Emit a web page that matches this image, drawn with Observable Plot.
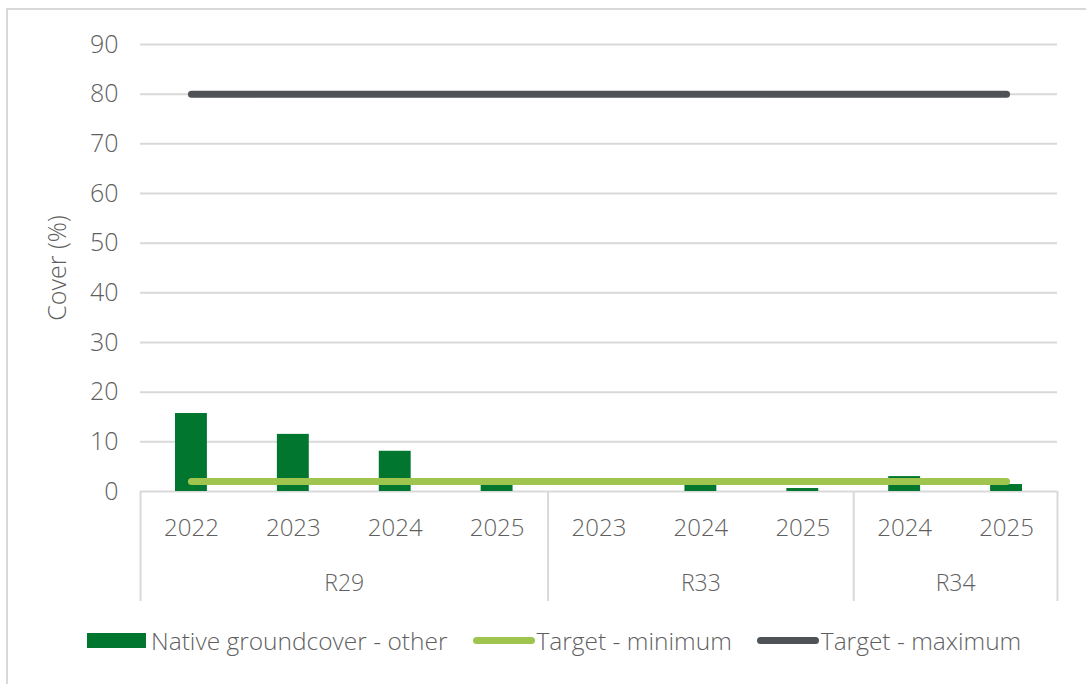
<!DOCTYPE html>
<html>
<head>
<meta charset="utf-8">
<script src="https://cdn.jsdelivr.net/npm/d3@7"></script>
<script src="https://cdn.jsdelivr.net/npm/@observablehq/plot@0.6"></script>
<style>
  html, body { margin: 0; padding: 0; background: #fff; overflow: hidden; }
  #wrap { position: relative; width: 1086px; height: 684px; font-family: "Open Sans", sans-serif; color: #5f5f5f; }
  #frame { position: absolute; left: 6px; top: 8px; width: 1100px; height: 700px; border: 2px solid #d9d9d9; box-sizing: border-box; }
  #chart { position: absolute; left: 0; top: 0; }
  #legend { position: absolute; left: 87px; top: 624px; display: flex; align-items: center; font-size: 24.5px; font-weight: 300; white-space: nowrap; }
  .item { display: flex; align-items: center; margin-right: 25px; }
  .sw { display: inline-block; margin-right: 5px; }
</style>
</head>
<body>
<div id="wrap"><div id="frame"></div><div id="chart"></div><div id="legend"></div></div>
<script>
// ---- data ----
const sites = ["R29", "R29", "R29", "R29", "R33", "R33", "R33", "R34", "R34"];
const years = ["2022", "2023", "2024", "2025", "2023", "2024", "2025", "2024", "2025"];
const groundcover = [15.7, 11.5, 8.1, 1.8, 0, 1.5, 0.6, 3.0, 1.4];
const targetMin = [2, 2, 2, 2, 2, 2, 2, 2, 2];
const targetMax = [80, 80, 80, 80, 80, 80, 80, 80, 80];
const seriesNames = ["Native groundcover - other", "Target - minimum", "Target - maximum"];
const seriesColors = ["#00762f", "#9fc54f", "#4f5256"];
const yTicks = [0, 10, 20, 30, 40, 50, 60, 70, 80, 90];

const rows = years.map((y, i) => ({i, site: sites[i], year: y, gc: groundcover[i], tmin: targetMin[i], tmax: targetMax[i]}));

// groups derived from sites
const groups = [];
sites.forEach((s, i) => {
  const g = groups[groups.length - 1];
  if (g && g.name === s) g.end = i; else groups.push({name: s, start: i, end: i});
});
const bounds = [groups[0].start - 0.5, ...groups.map(g => g.end + 0.5)];

const txt = "#5f5f5f";
const plot = Plot.plot({
  width: 1086,
  height: 684,
  marginLeft: 140,
  marginRight: 29,
  marginTop: 44,
  marginBottom: 193,
  style: {fontFamily: "Open Sans, sans-serif", fontWeight: 300, color: txt, background: "transparent", overflow: "visible"},
  x: {type: "linear", domain: [-0.5, sites.length - 0.5]},
  y: {domain: [0, 90]},
  marks: [
    Plot.gridY(yTicks, {stroke: "#d9d9d9", strokeOpacity: 1, strokeWidth: 2}),
    Plot.axisY(yTicks, {tickSize: 0, tickPadding: 22, fontSize: 25, label: "Cover (%)", labelAnchor: "center", labelArrow: "none", labelOffset: 92, fill: txt}),
    Plot.axisX(rows.map(d => d.i), {tickSize: 0, tickPadding: 27, fontSize: 24, tickFormat: i => years[i], label: null, fill: txt}),
    Plot.text(groups, {x: g => (g.start + g.end) / 2, text: "name", frameAnchor: "bottom", dy: 99, fontSize: 23, fill: txt}),
    Plot.ruleX(bounds, {x: d => d, y1: 0, y2: 0, insetBottom: -110, stroke: "#d9d9d9", strokeWidth: 2}),
    Plot.rectY(rows, {x1: d => d.i - 0.5, x2: d => d.i + 0.5, y1: 0, y2: "gc", insetLeft: 35, insetRight: 35, fill: seriesColors[0]}),
    Plot.lineY(rows, {x: "i", y: "tmin", stroke: seriesColors[1], strokeWidth: 7, strokeLinecap: "round"}),
    Plot.lineY(rows, {x: "i", y: "tmax", stroke: seriesColors[2], strokeWidth: 7, strokeLinecap: "round"})
  ]
});
document.getElementById("chart").appendChild(plot);

// legend
const legend = document.getElementById("legend");
seriesNames.forEach((name, k) => {
  const item = document.createElement("div");
  item.className = "item";
  const sw = document.createElement("span");
  sw.className = "sw";
  if (k === 0) {
    sw.style.cssText = `width:59px;height:15px;background:${seriesColors[k]};`;
  } else {
    sw.style.cssText = `width:62px;height:7px;border-radius:4px;background:${seriesColors[k]};margin-right:2px;`;
  }
  const t = document.createElement("span");
  t.textContent = name;
  item.appendChild(sw);
  item.appendChild(t);
  legend.appendChild(item);
});
</script>
</body>
</html>
